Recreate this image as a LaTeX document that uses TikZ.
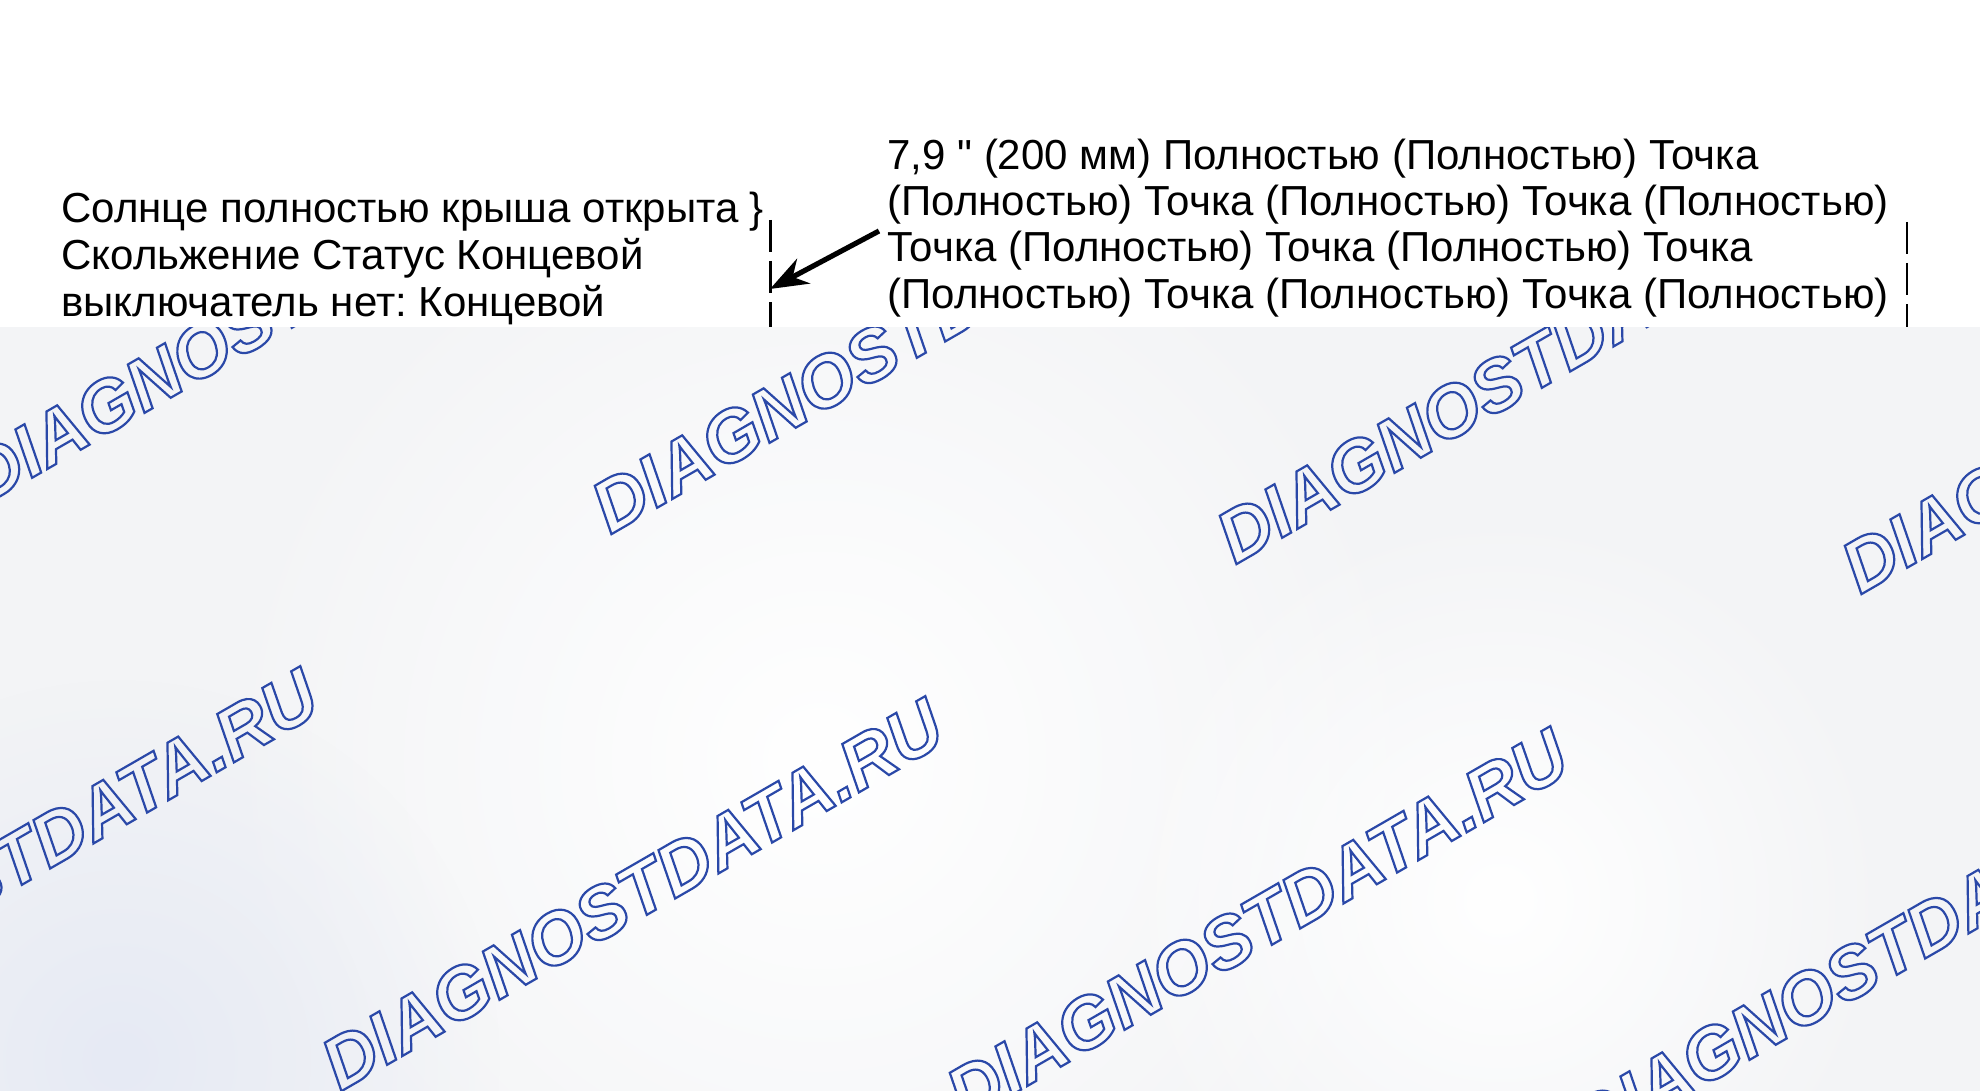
\documentclass[tikz,border=0pt]{standalone}
\usepackage{fontspec}
\setmainfont{Liberation Sans}
\newfontfamily\plainsans{Liberation Sans}
\usetikzlibrary{arrows.meta,fadings}
\frenchspacing
\definecolor{bgc}{HTML}{F3F4F6}
\definecolor{tint}{HTML}{E6EAF4}
\definecolor{wmc}{HTML}{2A48A8}
\newcommand\outlinetext[1]{\special{pdf:literal direct 1.1 w 1 Tr}#1\special{pdf:literal direct 0 Tr 0.4 w}}
\tikzfading[name=glowfade, inner color=transparent!0, outer color=transparent!100]
\tikzset{
  txt/.style={inner sep=0pt, anchor=base west, font=\fontsize{21}{24}\selectfont\plainsans, text=black},
  wmark/.style={inner sep=0pt, anchor=base west, rotate=30, text=wmc,
    font=\fontsize{36.5}{40}\selectfont\bfseries\itshape},
  dashline/.style={line width=1.2pt, dash pattern=on 16pt off 4.5pt},
  bigarrow/.style={line width=2.6pt, -{Stealth[length=19pt,width=14pt]}}
}
\begin{document}
\begin{tikzpicture}[x=0.5pt,y=-0.5pt]
\useasboundingbox (0,0) rectangle (1980,1091);
% background
\fill[white] (0,0) rectangle (1980,327);
\fill[bgc] (0,327) rectangle (1980,1091);
\begin{scope}
  \clip (0,327) rectangle (1980,1091);
  \fill[white, path fading=glowfade] (820,760) circle (620);
  \fill[white, path fading=glowfade] (1500,900) circle (400);
  \fill[tint, path fading=glowfade] (120,1060) circle (380);
  % watermarks
  \foreach \i/\x/\y in {1/-15/505, 2/610/535, 3/1235/565, 4/1860/595,
                        5/-285/1062, 6/340/1092, 7/965/1122, 8/1590/1152}
    \node[wmark] (wm\i) at (\x,\y) {\outlinetext{DIAGNOSTDATA.RU}};
\end{scope}
% left text
\node[txt] (l1) at (61,223) {Солнце полностью крыша открыта \}};
\node[txt] (l2) at (61,269.5) {Скольжение Статус Концевой};
\node[txt] (l3) at (61,316) {выключатель нет: Концевой};
% right text
\node[txt] (r1) at (887,169.5) {7,9 " (200 мм) Полностью (Полностью) Точка};
\node[txt] (r2) at (887,215.5) {(Полностью) Точка (Полностью) Точка (Полностью)};
\node[txt] (r3) at (887,262) {Точка (Полностью) Точка (Полностью) Точка};
\node[txt] (r4) at (887,308.5) {(Полностью) Точка (Полностью) Точка (Полностью)};
% dashed limit lines
\coordinate (d1top) at (770.5,220);
\coordinate (d1bot) at (770.5,327);
\coordinate (d2top) at (1907,222);
\coordinate (d2bot) at (1907,327);
\draw[dashline] (d1top) -- (d1bot);
\draw[dashline] (d2top) -- (d2bot);
% arrow
\coordinate (atail) at (879,231);
\coordinate (ahead) at (770,289);
\draw[bigarrow] (atail) -- (ahead);
\end{tikzpicture}
\end{document}
